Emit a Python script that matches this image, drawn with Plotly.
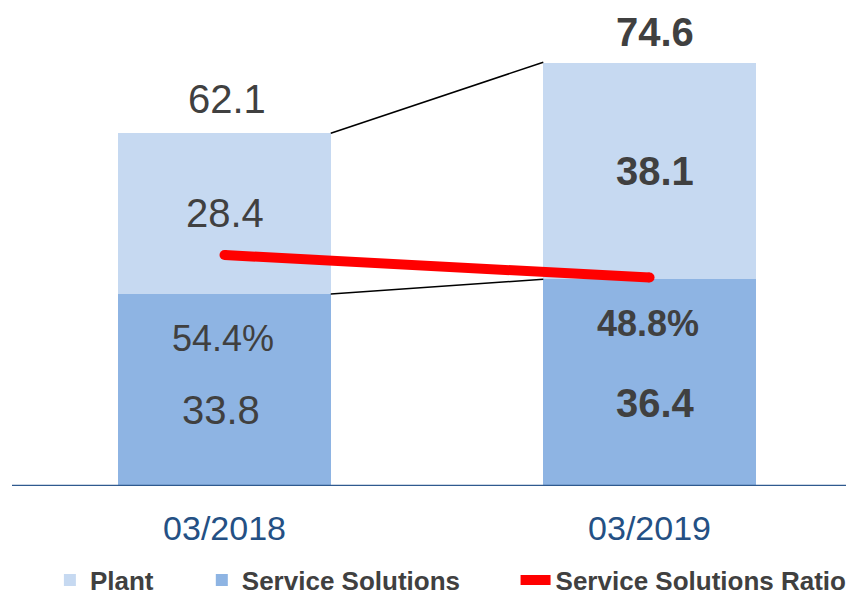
import plotly.graph_objects as go

# ---- data ----
categories = ["03/2018", "03/2019"]
service_solutions = [33.8, 36.4]
plant = [28.4, 38.1]
totals = [62.1, 74.6]
ratio_pct = [54.4, 48.8]
bold_flags = [False, True]

# ---- style ----
FONT = "Liberation Sans, Arial, sans-serif"
TXT = "#404040"
C_PLANT = "#C6D9F1"
C_SERV = "#8EB4E3"
BAR_W = 0.5
xpos = list(range(len(categories)))

fig = go.Figure()
fig.add_trace(go.Bar(x=xpos, y=service_solutions, name="Service Solutions" + "\u00a0" * 7,
                     marker=dict(color=C_SERV, line=dict(width=0)), width=BAR_W,
                     legendrank=2, hoverinfo="skip"))
fig.add_trace(go.Bar(x=xpos, y=plant, name="Plant" + "\u00a0" * 6,
                     marker=dict(color=C_PLANT, line=dict(width=0)), width=BAR_W,
                     legendrank=1, hoverinfo="skip"))

# connector lines between bars (right edge of first bar to left edge of second)
cx = [xpos[0] + BAR_W / 2, xpos[1] - BAR_W / 2]
fig.add_trace(go.Scatter(x=cx, y=totals, mode="lines", line=dict(color="black", width=1.5),
                         showlegend=False, hoverinfo="skip"))
fig.add_trace(go.Scatter(x=cx, y=service_solutions, mode="lines", line=dict(color="black", width=1.5),
                         showlegend=False, hoverinfo="skip"))

# ratio line
fig.add_trace(go.Scatter(x=xpos, y=ratio_pct, yaxis="y2", mode="lines+markers",
                         name="Service Solutions Ratio",
                         line=dict(color="#FF0000", width=10),
                         marker=dict(color="#FF0000", size=10),
                         legendrank=3, hoverinfo="skip"))


def fmt(v, b, suffix=""):
    s = f"{v:.1f}{suffix}"
    return f"<b>{s}</b>" if b else s


ann = []
for i, x in enumerate(xpos):
    b = bold_flags[i]
    ann.append(dict(x=x, y=totals[i], text=fmt(totals[i], b), showarrow=False,
                    yanchor="middle", yshift=30 if b else 34, xshift=5 if b else 2,
                    font=dict(size=40, color=TXT, family=FONT)))
    ann.append(dict(x=x, y=service_solutions[i] + plant[i] / 2, text=fmt(plant[i], b), showarrow=False,
                    yanchor="middle", yshift=0, xshift=5 if b else 0,
                    font=dict(size=40, color=TXT, family=FONT)))
    ann.append(dict(x=x, y=service_solutions[i], text=fmt(ratio_pct[i], b, "%"), showarrow=False,
                    yanchor="middle", yshift=-44, xshift=-2,
                    font=dict(size=36, color=TXT, family=FONT)))
    ann.append(dict(x=x, y=service_solutions[i] / 2, text=fmt(service_solutions[i], b), showarrow=False,
                    yanchor="middle", yshift=-20, xshift=6 if b else -4,
                    font=dict(size=40, color=TXT, family=FONT)))

fig.update_layout(
    width=846, height=587,
    margin=dict(l=4, r=0, t=0, b=109, autoexpand=False),
    paper_bgcolor="white", plot_bgcolor="white",
    barmode="stack", bargap=0,
    showlegend=True,
    legend=dict(orientation="h", x=0.045, xanchor="left", y=-0.197, yanchor="middle",
                traceorder="normal",
                font=dict(family=FONT, size=26, color=TXT, weight="bold"),
                bgcolor="rgba(0,0,0,0)", itemclick=False, itemdoubleclick=False),
    xaxis=dict(range=[-0.5, 1.481], tickvals=xpos, ticktext=categories,
               showgrid=False, zeroline=False, showline=False,
               ticks="", ticklabelstandoff=19,
               tickfont=dict(family=FONT, size=34, color="#245084")),
    yaxis=dict(range=[0, 84.15], visible=False, showgrid=False, zeroline=False),
    yaxis2=dict(range=[-3.06, 115.85], overlaying="y", side="right", visible=False,
                showgrid=False, zeroline=False),
    annotations=ann,
    shapes=[dict(type="line", xref="paper", yref="y", x0=0, x1=1, y0=0, y1=0,
                 line=dict(color="#2F5A8F", width=2.5), layer="above")],
)

fig.write_html("out.html")
